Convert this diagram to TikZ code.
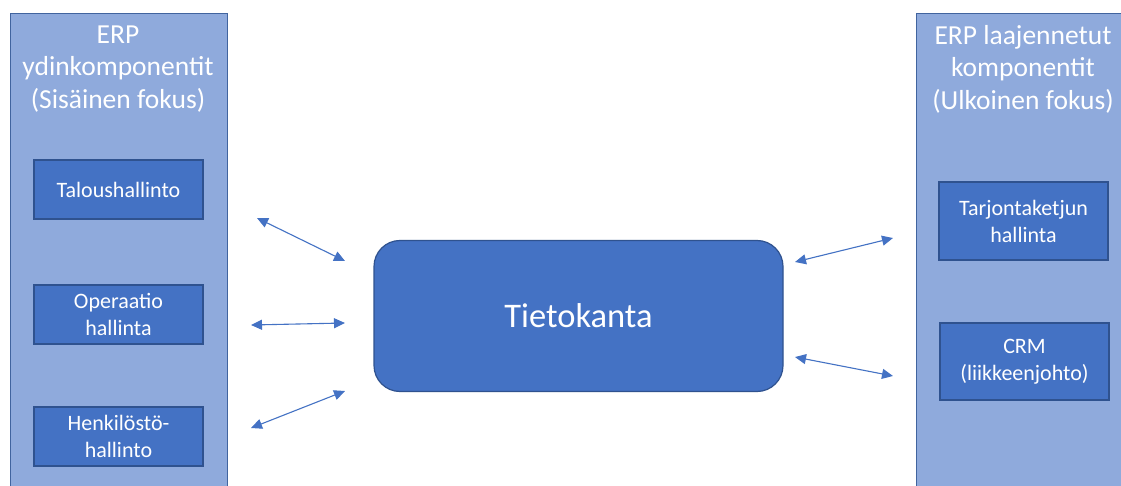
\documentclass[tikz,border=0pt]{standalone}
\usepackage{fontspec}
\setmainfont{Carlito}
\usetikzlibrary{arrows.meta}
\definecolor{panelfill}{HTML}{8FAADC}
\definecolor{panelline}{HTML}{41649F}
\definecolor{boxfill}{HTML}{4472C4}
\definecolor{boxline}{HTML}{2F528F}
\definecolor{arrowc}{HTML}{4472C4}
\tikzset{
  panel/.style={draw=panelline, line width=1.2pt, fill=panelfill, inner sep=0pt, anchor=north west},
  subbox/.style={draw=boxline, line width=1.2pt, fill=boxfill, text=white, minimum width=169pt, align=center, inner sep=0pt,
    font=\fontsize{22}{27}\selectfont},
  ptitle/.style={text=white, align=center, font=\fontsize{27.5}{32.5}\selectfont, inner sep=0pt},
  link/.style={draw=arrowc, line width=1.1pt, {Triangle[width=10pt,length=11pt]}-{Triangle[width=10pt,length=11pt]}}
}
\begin{document}
\begin{tikzpicture}[x=1pt,y=-1pt]
\useasboundingbox (0,0) rectangle (1121,486);
\clip (0,0) rectangle (1121,486);
\fill[white] (0,0) rectangle (1121,486);
% panels
\node[panel, minimum width=217pt, minimum height=490pt] (lp) at (10,13) {};
\node[panel, minimum width=220pt, minimum height=490pt] (rp) at (916,13) {};
\node[ptitle] (lt) at (118,69) {ERP\\ydinkomponentit\\(Sisäinen fokus)};
\node[ptitle] (rt) at (1023,69) {ERP laajennetut\\komponentit\\(Ulkoinen fokus)};
% sub boxes
\node[subbox, minimum height=59pt] (talous) at (118.5,189.5) {Taloushallinto};
\node[subbox, minimum height=59pt] (oper) at (118.5,314.5) {Operaatio\\hallinta};
\node[subbox, minimum height=59pt] (henk) at (118.5,436.5) {Henkilöstö-\\hallinto};
\node[subbox, minimum height=78pt] (tarj) at (1023.5,221) {Tarjontaketjun\\hallinta};
\node[subbox, minimum height=77pt] (crm) at (1024.5,361.5) {CRM\\(liikkeenjohto)};
% centre
\node[draw=boxline, line width=1.2pt, fill=boxfill, rounded corners=26pt, minimum width=409pt, minimum height=151pt,
  text=white, font=\fontsize{34.5}{40}\selectfont] (db) at (578.5,316) {Tietokanta};
% connector ends
\coordinate (a1s) at (257,218); \coordinate (a1e) at (345,261);
\coordinate (a2s) at (251,325); \coordinate (a2e) at (345,323);
\coordinate (a3s) at (251,428); \coordinate (a3e) at (345,391);
\coordinate (a4s) at (795,262); \coordinate (a4e) at (893,238);
\coordinate (a5s) at (795,357); \coordinate (a5e) at (893,376);
\draw[link] (a1s) -- (a1e);
\draw[link] (a2s) -- (a2e);
\draw[link] (a3s) -- (a3e);
\draw[link] (a4s) -- (a4e);
\draw[link] (a5s) -- (a5e);
\end{tikzpicture}
\end{document}
